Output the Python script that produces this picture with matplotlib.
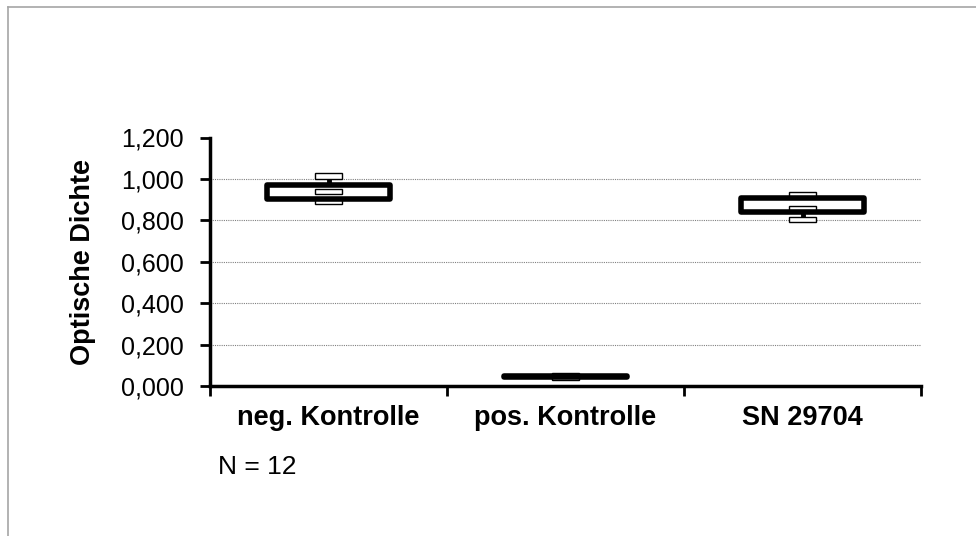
import numpy as np
import matplotlib
matplotlib.use("Agg")
import matplotlib.pyplot as plt
from matplotlib.ticker import FuncFormatter, FixedLocator
from matplotlib.lines import Line2D

plt.rcParams['font.family'] = ['Liberation Sans', 'DejaVu Sans']

# values
categories = ['neg. Kontrolle', 'pos. Kontrolle', 'SN 29704']
val_max = [1.015, 0.050, 0.923]
val_q3 = [0.973, 0.047, 0.907]
val_median = [0.938, 0.045, 0.857]
val_q1 = [0.904, 0.043, 0.838]
val_min = [0.893, 0.040, 0.805]
y_ticks = [0.0, 0.2, 0.4, 0.6, 0.8, 1.0, 1.2]
n_text = 'N = 12'
y_label = 'Optische Dichte'

W, H = 976, 536
fig = plt.figure(figsize=(W / 100, H / 100), dpi=100)

# outer chart border (only top and left visible)
fig.add_artist(Line2D([8 / W, 8 / W], [0, 1 - 7 / H], transform=fig.transFigure,
                      color='#a6a6a6', lw=1.2))
fig.add_artist(Line2D([8 / W, 1], [1 - 7 / H, 1 - 7 / H], transform=fig.transFigure,
                      color='#a6a6a6', lw=1.2))

ax = fig.add_axes([210 / W, (H - 386) / H, 711 / W, 248.5 / H])
x = np.arange(len(categories))
big_w = 0.52
small_w = 0.115
small_h = 0.026

# whiskers
ax.vlines(x, val_min, val_max, color='black', lw=3.5, zorder=1)
q1 = np.array(val_q1)
q3 = np.array(val_q3)
# box fill
ax.bar(x, q3 - q1, bottom=q1, width=big_w, color='white', edgecolor='none', zorder=2)
# small markers for max / median / min
for vals in (val_max, val_median, val_min):
    v = np.array(vals)
    ax.bar(x, small_h, bottom=v - small_h / 2, width=small_w, color='white',
           edgecolor='black', lw=1, zorder=3)
# box outline
ax.bar(x, q3 - q1, bottom=q1, width=big_w, fill=False, edgecolor='black',
       lw=4, joinstyle='round', zorder=4)

ax.set_xlim(-0.5, len(categories) - 0.5)
ax.set_ylim(0, 1.2)
ax.set_yticks(y_ticks)
ax.yaxis.set_major_formatter(FuncFormatter(lambda v, p: f'{v:.3f}'.replace('.', ',')))
for t in y_ticks[1:-1]:
    ax.axhline(t, color='#808080', lw=0.8, ls=(0, (1, 1)), zorder=0)

ax.xaxis.set_major_locator(FixedLocator(np.arange(len(categories) + 1) - 0.5))
ax.xaxis.set_major_formatter(FuncFormatter(lambda v, p: ''))
ax.xaxis.set_minor_locator(FixedLocator(x))
ax.set_xticklabels(categories, minor=True, fontweight='bold', fontsize=19.5)
ax.tick_params(axis='x', which='minor', length=0, pad=14)
ax.tick_params(axis='x', which='major', direction='out', length=7, width=2)
ax.tick_params(axis='y', direction='out', length=7, width=2, labelsize=18, pad=12)

for s in ('top', 'right'):
    ax.spines[s].set_visible(False)
for s in ('left', 'bottom'):
    ax.spines[s].set_linewidth(2.5)
    ax.spines[s].set_zorder(5)

ax.set_ylabel(y_label, fontweight='bold', fontsize=19.5, labelpad=18)
fig.text(218 / W, 1 - 467 / H, n_text, fontsize=19, va='center', ha='left')

fig.savefig('out.png', dpi=100)
